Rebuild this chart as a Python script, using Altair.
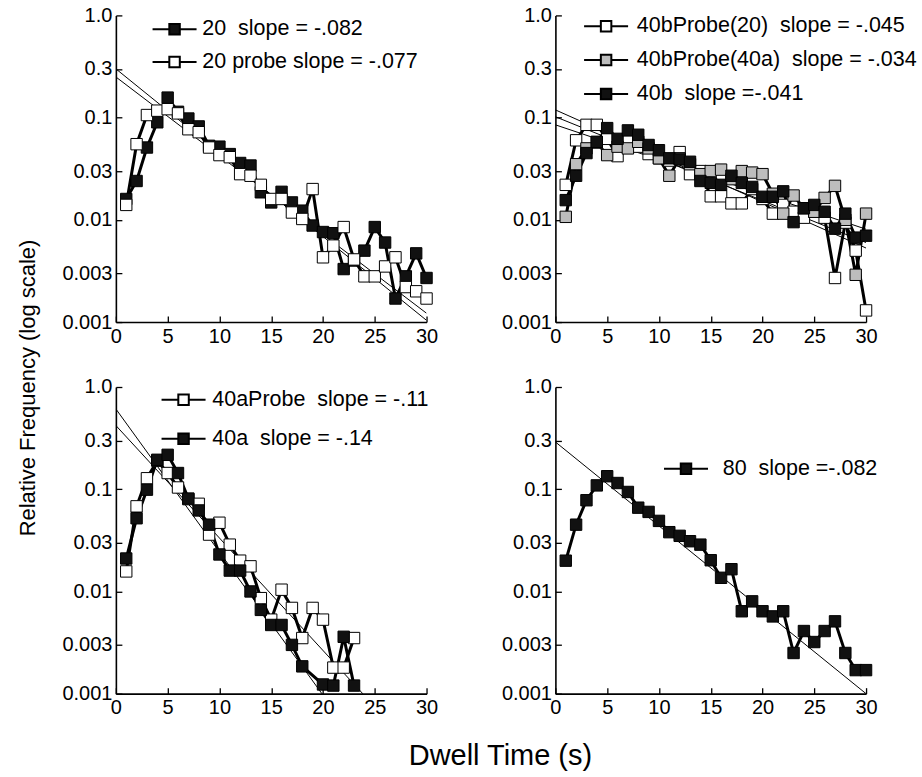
import altair as alt
import pandas as pd

FONT = "Liberation Sans"
t_vals = list(range(1, 31))

# ---------- Panel A (top-left) ----------
a_names = ["20\u00a0 slope = -.082", "20 probe slope = -.077"]
a_fills = ["#111111", "#ffffff"]
a_20 = [0.016, 0.024, 0.051, 0.090, 0.157, 0.114, 0.098, 0.082, 0.053, 0.052,
        0.044, 0.036, 0.034, 0.0186, 0.0148, 0.0188, 0.0148, 0.0123, 0.0088, 0.0076,
        0.0074, 0.0033, 0.0040, 0.0050, 0.0085, 0.0060, 0.0017, 0.0028, 0.0047, 0.0027]
a_20probe = [0.014, 0.055, 0.106, 0.117, 0.121, 0.110, 0.077, 0.072, 0.051, 0.043,
             0.041, 0.028, 0.027, 0.022, 0.016, 0.016, 0.0118, 0.0102, 0.020, 0.0043,
             0.0056, 0.0085, 0.0041, 0.0028, 0.0028, 0.0035, 0.0043, 0.0022, 0.0020, 0.0017]
a_fit_start = [0.30, 0.25]
a_fit_end = [0.00104, 0.00122]

# ---------- Panel B (top-right) ----------
b_names = ["40bProbe(20)\u00a0 slope = -.045", "40bProbe(40a)\u00a0 slope = -.034", "40b\u00a0 slope =-.041"]
b_fills = ["#ffffff", "#bdbdbd", "#111111"]
b_probe20 = [0.022, 0.060, 0.085, 0.085, 0.062, 0.042, 0.060, 0.052, 0.044, 0.040,
             0.038, 0.046, 0.028, 0.030, 0.017, 0.017, 0.0145, 0.0145, 0.020, 0.016,
             0.0115, 0.014, 0.012, 0.0105, 0.012, 0.0105, 0.0027, 0.0094, 0.0050, 0.0013]
b_probe40a = [0.0107, 0.035, 0.050, 0.057, 0.043, 0.052, 0.050, 0.058, 0.050, 0.040,
              0.027, 0.040, 0.035, 0.028, 0.030, 0.031, 0.025, 0.030, 0.029, 0.028,
              0.018, 0.0115, 0.0173, 0.013, 0.012, 0.0164, 0.0215, 0.0100, 0.0029, 0.0115]
b_40b = [0.0156, 0.027, 0.045, 0.058, 0.079, 0.062, 0.075, 0.068, 0.054, 0.048,
         0.040, 0.039, 0.037, 0.024, 0.023, 0.022, 0.027, 0.023, 0.021, 0.0168,
         0.0168, 0.019, 0.0095, 0.013, 0.014, 0.012, 0.0082, 0.0115, 0.0067, 0.0070]
b_fit_start = [0.119, 0.085, 0.102]
b_fit_end = [0.0053, 0.0081, 0.0060]

# ---------- Panel C (bottom-left) ----------
c_names = ["40aProbe\u00a0 slope = -.11", "40a\u00a0 slope = -.14"]
c_fills = ["#ffffff", "#111111"]
c_probe = [0.0157, 0.068, 0.128, 0.19, 0.144, 0.104, 0.080, 0.072, 0.036, 0.047,
           0.0287, 0.020, 0.0176, 0.0086, 0.0053, 0.0104, 0.0069, 0.0035, 0.0069, 0.0053,
           0.0018, 0.0018, 0.0035]
c_40a = [0.021, 0.052, 0.099, 0.194, 0.217, 0.144, 0.081, 0.062, 0.045, 0.023,
         0.016, 0.016, 0.010, 0.0066, 0.0047, 0.0047, 0.0030, 0.00185, None, 0.00123,
         0.0012, 0.0036, 0.0012]
c_fit_start = [0.42, 0.61]
c_fit_end = [0.00021, 0.0000385]

# ---------- Panel D (bottom-right) ----------
d_names = ["80\u00a0 slope =-.082"]
d_fills = ["#111111"]
d_80 = [0.020, 0.045, 0.078, 0.109, 0.134, 0.115, 0.094, 0.066, 0.060, 0.049,
        0.038, 0.035, 0.031, 0.0287, 0.0202, 0.0136, 0.0165, 0.0064, 0.0080, 0.0064,
        0.0057, 0.0064, 0.0025, 0.0041, 0.0032, 0.0041, 0.0051, 0.0025, 0.0017, 0.0017]
d_fit_start = [0.29]
d_fit_end = [0.0010]

x_ticks = [0, 5, 10, 15, 20, 25, 30]
y_ticks = [0.001, 0.003, 0.01, 0.03, 0.1, 0.3, 1]

SYMBOL = "M-4.2,0L-1,0M-1,-1L1,-1L1,1L-1,1ZM1,0L4.2,0"
PW, PH = 311, 307


def make_panel(names, fills, series, fit_start, fit_end, lx, ly, loff, rowpad):
    rows = []
    for name, vals in zip(names, series):
        for t, v in zip(t_vals, vals):
            if v is not None:
                rows.append({"series": name, "t": t, "f": v})
    df = pd.DataFrame(rows)
    fit_rows = []
    for name, s, e in zip(names, fit_start, fit_end):
        fit_rows.append({"series": name, "t": 0, "f": s})
        fit_rows.append({"series": name, "t": 30, "f": e})
    fit = pd.DataFrame(fit_rows)

    xaxis = alt.Axis(values=x_ticks, title=None, grid=False, domainColor="black",
                     domainWidth=1.6, tickColor="black", tickWidth=1.3,
                     tickSize={"expr": "-6"}, labelPadding=10, labelFont=FONT,
                     labelFontSize=20, labelColor="black", labelFlush=False)
    yaxis = alt.Axis(values=y_ticks, title=None, grid=False, domainColor="black",
                     domainWidth=1.6, tickColor="black", tickWidth=1.3,
                     tickSize={"expr": "-6"}, labelPadding=10, labelFont=FONT,
                     labelFontSize=20, labelColor="black", labelFlush=False,
                     labelExpr="datum.value == 1 ? '1.0' : '' + datum.value")
    x = alt.X("t:Q", scale=alt.Scale(domain=[0, 30], nice=False), axis=xaxis)
    y = alt.Y("f:Q", scale=alt.Scale(type="log", domain=[0.001, 1], nice=False), axis=yaxis)

    fitlines = alt.Chart(fit).mark_line(color="black", strokeWidth=1, clip=True).encode(
        x=x, y=y, detail="series:N")
    lines = alt.Chart(df).mark_line(color="black", strokeWidth=3).encode(
        x=x, y=y, detail="series:N")
    pts = alt.Chart(df).mark_square(size=130, stroke="black", strokeWidth=1, opacity=1).encode(
        x=x, y=y,
        fill=alt.Fill("series:N", scale=alt.Scale(domain=names, range=fills),
                      legend=alt.Legend(orient="none", legendX=lx, legendY=ly, title=None,
                                        symbolType=SYMBOL, symbolSize=110,
                                        symbolStrokeColor="black", symbolStrokeWidth=2,
                                        symbolOpacity=1, labelFont=FONT, labelFontSize=21.5,
                                        labelColor="black", labelOffset=loff,
                                        rowPadding=rowpad, labelLimit=0, padding=0)))
    return alt.layer(fitlines, lines, pts).properties(width=PW, height=PH)


pA = make_panel(a_names, a_fills, [a_20, a_20probe], a_fit_start, a_fit_end, 48, 3, 17, 10)
pB = make_panel(b_names, b_fills, [b_probe20, b_probe40a, b_40b], b_fit_start, b_fit_end, 40, 0, 20, 11)
pC = make_panel(c_names, c_fills, [c_probe, c_40a], c_fit_start, c_fit_end, 57, 2, 18, 16)
pD = make_panel(d_names, d_fills, [d_80], d_fit_start, d_fit_end, 120, 71, 26, 10)

row1 = alt.hconcat(pA, pB, spacing=62).resolve_scale(fill="independent").resolve_legend(fill="independent")
row2 = alt.hconcat(pC, pD, spacing=62).resolve_scale(fill="independent").resolve_legend(fill="independent")

grid = alt.vconcat(row1, row2, spacing=31).resolve_scale(fill="independent").resolve_legend(
    fill="independent").properties(
    title=alt.TitleParams("Dwell Time (s)", orient="bottom", anchor="middle", font=FONT,
                          fontSize=29, fontWeight="normal", color="black", offset=24, dx=11))

chart = alt.hconcat(grid).resolve_scale(fill="independent").resolve_legend(
    fill="independent").properties(
    title=alt.TitleParams("Relative Frequency (log scale)", orient="left", anchor="middle",
                          font=FONT, fontSize=22, fontWeight="normal", color="black", offset=22),
    padding={"left": 16, "top": 5, "right": 5, "bottom": 5},
).configure_view(stroke=None)

chart.save("out.html", embed_options={"renderer": "svg", "actions": False})
